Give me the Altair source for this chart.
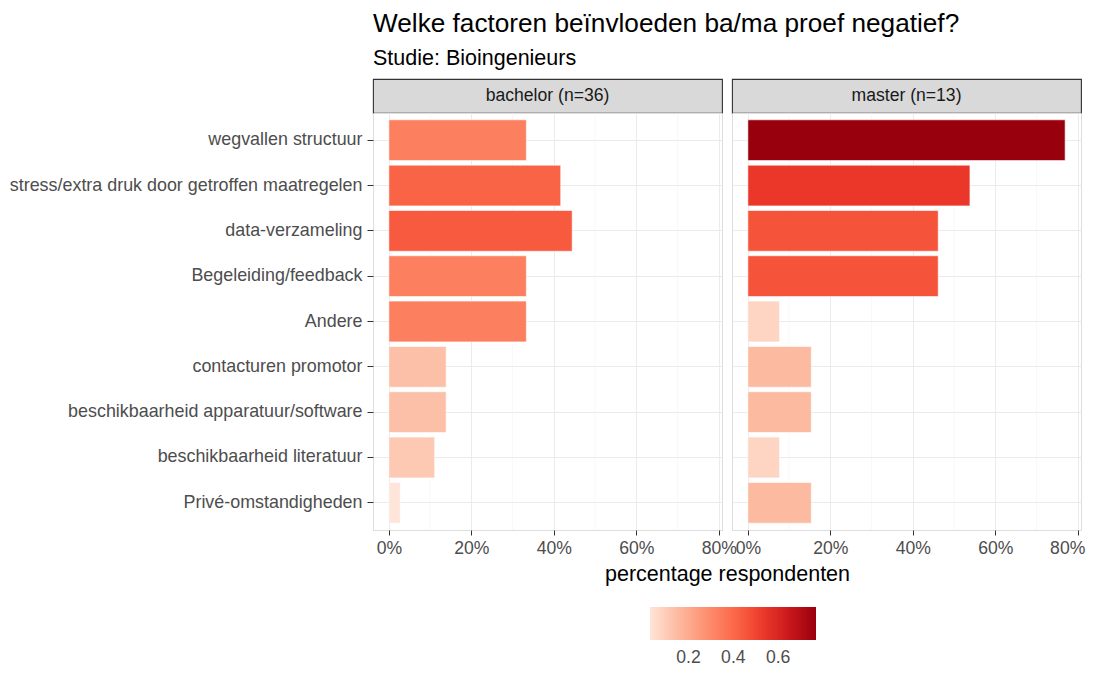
import altair as alt
import pandas as pd
import numpy as np

categories = [
    "wegvallen structuur",
    "stress/extra druk door getroffen maatregelen",
    "data-verzameling",
    "Begeleiding/feedback",
    "Andere",
    "contacturen promotor",
    "beschikbaarheid apparatuur/software",
    "beschikbaarheid literatuur",
    "Privé-omstandigheden",
]
bachelor_pct = [12/36, 15/36, 16/36, 12/36, 12/36, 5/36, 5/36, 4/36, 1/36]
master_pct = [10/13, 7/13, 6/13, 6/13, 1/13, 2/13, 2/13, 1/13, 2/13]
panels = ["bachelor", "master"]
panel_labels = ["bachelor (n=36)", "master (n=13)"]
x_ticks = [0, 0.2, 0.4, 0.6, 0.8]
x_minor = [0.1, 0.3, 0.5, 0.7]
legend_ticks = [0.2, 0.4, 0.6]
reds7 = ["#fee5d9", "#fcbba1", "#fc9272", "#fb6a4a", "#ef3b2c", "#cb181d", "#99000d"]

df = pd.DataFrame({
    "factor": categories * 2,
    "pct": bachelor_pct + master_pct,
    "niveau": ["bachelor"] * len(categories) + ["master"] * len(categories),
})

vmin, vmax = float(df.pct.min()), float(df.pct.max())
color_domain = [float(v) for v in np.linspace(vmin, vmax, len(reds7))]
x_domain = [-0.05 * vmax, 1.05 * vmax]

FONT = "Liberation Sans"
FS = 17.6
W, H, SH = 349, 417, 34

color_scale = alt.Scale(domain=color_domain, range=reds7, interpolate="lab")
legend = alt.Legend(
    title=None, orient="none", direction="horizontal",
    legendX=277, legendY=528,
    gradientLength=166, gradientThickness=33,
    values=legend_ticks, format=".1f",
    labelFontSize=FS, labelColor="#4d4d4d", labelFont=FONT,
    gradientStrokeWidth=0, labelOffset=9,
)


def panel(i):
    sub = df[df.niveau == panels[i]]
    first = i == 0
    xscale = alt.Scale(domain=x_domain, nice=False, zero=False)
    yscale = alt.Scale(domain=categories, paddingInner=0.1, paddingOuter=0.15)
    if first:
        yaxis = alt.Axis(title=None, grid=True, bandPosition=0.5, gridColor="#ebebeb",
                         labelFontSize=17.9, labelColor="#4d4d4d", labelFont=FONT,
                         tickColor="#333333", tickSize=6, labelPadding=5, domain=False,
                         labelLimit=600)
        xaxis = alt.Axis(values=x_ticks, format=".0%", title="percentage respondenten",
                         grid=True, gridColor="#ebebeb",
                         labelFontSize=FS, labelColor="#4d4d4d", labelFont=FONT,
                         tickColor="#333333", tickSize=5, labelPadding=4.5, domain=False,
                         labelOverlap=False,
                         titleFontSize=21.5, titleFont=FONT, titleColor="#000000",
                         titleFontWeight="normal", titleX=354, titleY=50,
                         titleBaseline="alphabetic", titleAnchor="middle", titleAlign="center")
    else:
        yaxis = alt.Axis(title=None, grid=True, bandPosition=0.5, gridColor="#ebebeb",
                         labels=False, ticks=False, domain=False)
        xaxis = alt.Axis(values=x_ticks, format=".0%", title=None,
                         grid=True, gridColor="#ebebeb",
                         labelFontSize=FS, labelColor="#4d4d4d", labelFont=FONT,
                         tickColor="#333333", tickSize=5, labelPadding=4.5, domain=False,
                         labelOverlap=False, labelFlush=5, labelFlushOffset=7)
    minor = alt.Chart(pd.DataFrame({"pct": x_minor})).mark_rule(
        color="#f4f4f4", strokeWidth=0.6
    ).encode(x=alt.X("pct:Q", scale=xscale, axis=xaxis))
    bars = alt.Chart(sub).mark_bar(stroke="white", strokeWidth=0.6).encode(
        x=alt.X("pct:Q", scale=xscale, axis=xaxis),
        y=alt.Y("factor:N", scale=yscale, axis=yaxis, sort=categories),
        color=alt.Color("pct:Q", scale=color_scale, legend=legend),
    )
    body = alt.layer(minor, bars).properties(width=W, height=H)
    strip = alt.Chart(pd.DataFrame({"label": [panel_labels[i]]})).mark_text(
        fontSize=FS, color="#1a1a1a", font=FONT, baseline="middle"
    ).encode(
        x=alt.value(W / 2), y=alt.value(SH / 2), text="label:N"
    ).properties(width=W, height=SH,
                 view=alt.ViewBackground(fill="#d9d9d9", stroke="#333333", strokeWidth=1.1))
    return strip, body


s0, b0 = panel(0)
s1, b1 = panel(1)

chart = alt.concat(
    s0, s1, b0, b1, columns=2, spacing={"row": 0, "column": 10}, bounds="flush"
).properties(
    title=alt.TitleParams(
        "Welke factoren beïnvloeden ba/ma proef negatief?",
        subtitle="Studie: Bioingenieurs",
        anchor="start", frame="group", font=FONT, fontSize=26.2, fontWeight="normal",
        color="#000000", subtitleFont=FONT, subtitleFontSize=21.5, subtitleColor="#000000",
        subtitlePadding=10.5, offset=9,
    ),
    padding={"left": 0, "top": 3, "right": 0, "bottom": 0},
).resolve_scale(color="shared").configure_view(
    stroke="#333333", strokeWidth=1.1
).configure(background="white")

chart.save("out.html", embed_options={"renderer": "svg", "actions": False})
